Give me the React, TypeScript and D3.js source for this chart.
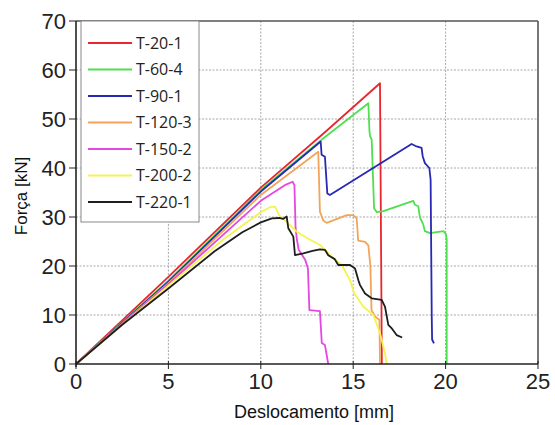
import React from "react";
import * as d3 from "d3";

type P = [number, number];

const seriesNames = ["T-20-1", "T-60-4", "T-90-1", "T-120-3", "T-150-2", "T-200-2", "T-220-1"];
const seriesColors = ["#e8262e", "#4ee04e", "#2828b4", "#f2a55a", "#e448e0", "#f4f450", "#1e1e1e"];

const t20_1: P[] = [[0, 0], [5, 17.8], [10, 36.0], [13.5, 47.4], [16.45, 57.3], [16.55, 0]];
const t60_4: P[] = [
  [0, 0], [5, 17.0], [10, 35.5], [13.3, 45.8], [15.82, 53.2], [15.88, 47.5], [15.91, 46.5], [16.0, 45.8],
  [16.13, 31.8], [16.27, 31.0], [16.63, 31.2], [18.25, 33.3], [18.34, 32.5], [18.52, 32.2], [18.61, 29.9],
  [18.79, 28.5], [18.88, 27.1], [19.16, 26.7], [19.88, 27.1], [20.02, 26.5], [20.06, 25.5], [20.06, 0],
];
const t90_1: P[] = [
  [0, 0], [5, 16.8], [10, 35.2], [13.24, 45.4], [13.29, 42.7], [13.47, 42.3], [13.6, 34.8], [13.74, 34.5],
  [18.16, 44.9], [18.43, 44.4], [18.7, 44.1], [18.76, 42.4], [18.88, 41.0], [19.12, 40.0], [19.19, 37.6],
  [19.25, 9.7], [19.27, 5.0], [19.37, 4.2],
];
const t120_3: P[] = [
  [0, 0], [5, 16.5], [10, 34.5], [13.11, 43.3], [13.17, 35], [13.2, 31.1], [13.38, 29.3], [13.57, 28.8],
  [14.65, 30.4], [15.0, 30.4], [15.19, 29.7], [15.27, 25.2], [15.64, 24.9], [15.82, 24.2], [15.93, 20],
  [15.99, 11.0], [16.18, 9.7], [16.42, 9.0], [16.45, 0],
];
const t150_2: P[] = [
  [0, 0], [5, 16.3], [10, 33.3], [11.3, 36.5], [11.72, 37.2], [11.82, 36.5], [11.88, 28], [11.95, 25.5],
  [12.05, 23.3], [12.4, 21.3], [12.55, 19.5], [12.63, 11.0], [13.2, 10.8], [13.3, 4.3], [13.47, 3.9], [13.65, 0],
];
const t200_2: P[] = [
  [0, 0], [5, 16.0], [8, 25.5], [10, 31.0], [10.5, 32.0], [10.77, 32.1], [11.0, 30.3], [11.4, 29.0],
  [11.94, 27.0], [12.6, 25.5], [13.2, 24.3], [13.84, 21.9], [14.38, 20.2], [14.83, 17.1], [15.05, 14.5],
  [15.55, 11.7], [16.09, 10.0], [16.45, 6.3], [16.72, 2.2], [16.81, 0],
];
const t220_1: P[] = [
  [0, 0], [2.5, 8.0], [5, 15.4], [7.5, 23.0], [9, 26.9], [10, 28.9], [10.6, 29.7], [11.0, 29.8], [11.2, 29.6],
  [11.4, 30.1], [11.49, 27.7], [11.76, 26.0], [11.85, 22.2], [12.3, 22.6], [12.8, 23.1], [13.2, 23.4],
  [13.47, 23.3], [13.65, 22.2], [14.0, 21.4], [14.19, 20.2], [14.83, 20.2], [15.1, 19.5], [15.28, 17.1],
  [15.37, 16.1], [15.64, 14.4], [16.0, 13.4], [16.54, 13.1], [16.72, 11.7], [16.9, 8.0], [17.1, 7.2],
  [17.35, 5.9], [17.65, 5.4],
];
const seriesData: P[][] = [t20_1, t60_4, t90_1, t120_3, t150_2, t200_2, t220_1];

const xTicks = [0, 5, 10, 15, 20, 25];
const yTicks = [0, 10, 20, 30, 40, 50, 60, 70];
const xTitle = "Deslocamento [mm]";
const yTitle = "Força [kN]";

export default function App() {
  const W = 555, H = 425;
  const left = 76, right = 538, top = 21, bottom = 364;
  const x = d3.scaleLinear().domain([0, 25]).range([left, right]);
  const y = d3.scaleLinear().domain([0, 70]).range([bottom, top]);
  const line = d3.line<P>().x((d) => x(d[0])).y((d) => y(d[1]));
  const font = "'Liberation Sans', Arial, sans-serif";
  const legX = 81, legY = 21, legW = 118, legH = 201;
  const rowY0 = 43, rowStep = 26.5;

  return (
    <div style={{ position: "fixed", left: 0, top: 0 }}>
      <svg width={W} height={H} style={{ display: "block", background: "#fff" }}>
        {/* grid */}
        {xTicks.filter((t) => t > 0 && t < 25).map((t) => (
          <line key={"gx" + t} x1={x(t)} x2={x(t)} y1={top} y2={bottom} stroke="#a8a8a8" strokeWidth={1} strokeDasharray="2,1.5" />
        ))}
        {yTicks.filter((t) => t > 0 && t < 70).map((t) => (
          <line key={"gy" + t} x1={left} x2={right} y1={y(t)} y2={y(t)} stroke="#a8a8a8" strokeWidth={1} strokeDasharray="2,1.5" />
        ))}
        {/* frame top/right */}
        <line x1={left} x2={right} y1={top} y2={top} stroke="#555" strokeWidth={1.6} />
        <line x1={right} x2={right} y1={top} y2={bottom} stroke="#555" strokeWidth={1.6} />
        {/* data */}
        {seriesData.map((d, i) => (
          <path key={seriesNames[i]} d={line(d) || ""} fill="none" stroke={seriesColors[i]} strokeWidth={1.8} strokeLinejoin="round" />
        ))}
        {/* axes */}
        <line x1={left} x2={left} y1={top} y2={bottom + 3} stroke="#222" strokeWidth={1.6} />
        <line x1={left} x2={right} y1={bottom} y2={bottom} stroke="#222" strokeWidth={1.6} />
        {yTicks.map((t) => (
          <g key={"yt" + t}>
            <line x1={left - 7} x2={left} y1={y(t)} y2={y(t)} stroke="#222" strokeWidth={1} />
            <text x={left - 10} y={y(t)} dy="0.36em" textAnchor="end" fontFamily={font} fontSize={22} fill="#222">{t}</text>
          </g>
        ))}
        {xTicks.map((t) => (
          <g key={"xt" + t}>
            <line x1={x(t)} x2={x(t)} y1={bottom - 3} y2={bottom + 5} stroke="#222" strokeWidth={1} />
            <text x={x(t)} y={389} textAnchor="middle" fontFamily={font} fontSize={22} fill="#222">{t}</text>
          </g>
        ))}
        <text x={314} y={418} textAnchor="middle" fontFamily={font} fontSize={18} fill="#111">{xTitle}</text>
        <text transform={`translate(27,196) rotate(-90)`} textAnchor="middle" fontFamily={font} fontSize={17} fill="#111">{yTitle}</text>
        {/* legend */}
        <rect x={legX} y={legY} width={legW} height={legH} fill="#fff" stroke="#888" strokeWidth={1} />
        {seriesNames.map((n, i) => (
          <g key={"lg" + n}>
            <line x1={88} x2={132} y1={rowY0 + i * rowStep} y2={rowY0 + i * rowStep} stroke={seriesColors[i]} strokeWidth={2} />
            <text x={136} y={rowY0 + i * rowStep} dy="0.36em" fontFamily="'Open Sans', sans-serif" fontSize={16} fill="#222">{n}</text>
          </g>
        ))}
      </svg>
    </div>
  );
}
